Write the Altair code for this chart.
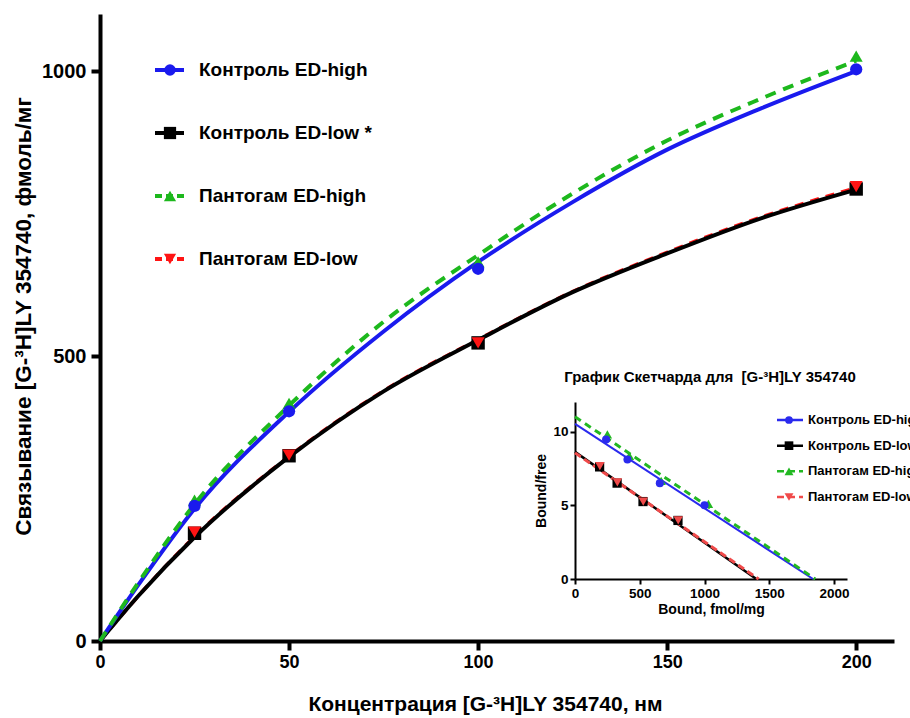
import altair as alt
import pandas as pd

FONT = "Liberation Sans"

# ---------------- data ----------------
series = ["Контроль ED-high", "Контроль ED-low *", "Пантогам ED-high", "Пантогам ED-low"]
inset_series = ["Контроль ED-high", "Контроль ED-low", "Пантогам ED-high", "Пантогам ED-low"]
colors = ["#1a1aee", "#000000", "#1db81d", "#ff1414"]
inset_colors = ["#2a2aee", "#000000", "#22b822", "#f04a4a"]
shapes = ["circle", "square", "triangle-up", "triangle-down"]

conc = [25, 50, 100, 200]
ctrl_high = [237, 403, 653, 1003]
ctrl_low = [189, 325, 523, 793]
pant_high = [247, 417, 665, 1026]
pant_low = [191, 326, 523, 797]

curve_x = [0, 10, 25, 50, 75, 100, 125, 150, 175, 200]
ctrl_high_fit = [0, 97, 232, 402, 543, 665, 770, 862, 935, 1000]
ctrl_low_fit = [0, 78, 182, 323, 438, 528, 612, 680, 742, 792]
pant_high_fit = [0, 101, 240, 413, 560, 677, 785, 878, 952, 1018]
pant_low_fit = [0, 78, 183, 324, 439, 529, 613, 682, 744, 795]

# Scatchard inset
ctrl_high_b = [240, 405, 655, 1000]
ctrl_high_bf = [9.45, 8.1, 6.5, 5.0]
ctrl_low_b = [190, 325, 525, 795]
ctrl_low_bf = [7.6, 6.5, 5.25, 3.97]
pant_high_b = [250, 420, 665, 1030]
pant_high_bf = [9.8, 8.35, 6.65, 5.1]
pant_low_b = [192, 327, 527, 797]
pant_low_bf = [7.65, 6.55, 5.25, 3.98]

ctrl_high_line_b = [0, 1838]
ctrl_high_line_bf = [10.52, 0]
ctrl_low_line_b = [0, 1400]
ctrl_low_line_bf = [8.62, 0]
pant_high_line_b = [0, 1855]
pant_high_line_bf = [11.0, 0]
pant_low_line_b = [0, 1418]
pant_low_line_bf = [8.55, 0]

x_ticks = [0, 50, 100, 150, 200]
y_ticks = [0, 500, 1000]
inset_x_ticks = [0, 500, 1000, 1500, 2000]
inset_y_ticks = [0, 5, 10]

x_title = "Концентрация [G-³H]LY 354740, нм"
y_title = "Связывание [G-³H]LY 354740, фмоль/мг"
inset_title = ["График Скетчарда для\u00a0 [G-³H]LY 354740"]
inset_x_title = "Bound, fmol/mg"
inset_y_title = "Bound/free"

# ---------------- main plot ----------------
X_MAIN = alt.X("x:Q", scale=alt.Scale(domain=[0, 210], nice=False, zero=False),
               axis=alt.Axis(values=x_ticks, title=x_title, orient="bottom", format="d",
                             domainWidth=4, tickWidth=4, tickSize=9,
                             labelFont=FONT, labelFontSize=18, labelFontWeight="bold",
                             labelPadding=3, labelFlush=False,
                             titleFont=FONT, titleFontSize=21, titleFontWeight="bold",
                             titleX=385, titleY=69, titleAlign="center",
                             titleBaseline="alphabetic"))
Y_MAIN = alt.Y("y:Q", scale=alt.Scale(domain=[0, 1100], nice=False),
               axis=alt.Axis(values=y_ticks, title=y_title, orient="left", format="d",
                             domainWidth=4, tickWidth=4, tickSize=9,
                             labelFont=FONT, labelFontSize=20, labelFontWeight="bold",
                             labelPadding=5, labelFlush=False,
                             titleFont=FONT, titleFontSize=22.5, titleFontWeight="bold",
                             titleAngle=-90, titleX=-77, titleY=302,
                             titleAlign="center", titleBaseline="middle"))

fits = [ctrl_high_fit, ctrl_low_fit, pant_high_fit, pant_low_fit]


def fit_layer(i, dash, width):
    df = pd.DataFrame({"x": curve_x, "y": fits[i]})
    kw = dict(color=colors[i], strokeWidth=width, interpolate="monotone")
    if dash:
        kw["strokeDash"] = dash
    return alt.Chart(df).mark_line(**kw).encode(x=X_MAIN, y=Y_MAIN)


pts_rows = []
vals = [ctrl_high, ctrl_low, pant_high, pant_low]
sizes = [150, 180, 170, 170]
for i in [2, 0, 1, 3]:
    for cx, v in zip(conc, vals[i]):
        pts_rows.append({"x": cx, "y": v, "c": colors[i], "s": shapes[i], "z": sizes[i]})
pts_df = pd.DataFrame(pts_rows)

main_points = alt.Chart(pts_df).mark_point(filled=True, opacity=1).encode(
    x=X_MAIN, y=Y_MAIN,
    color=alt.Color("c:N", scale=None),
    shape=alt.Shape("s:N", scale=None),
    size=alt.Size("z:Q", scale=None),
)

main = alt.layer(
    fit_layer(3, [9, 7], 3.5),
    fit_layer(1, None, 4),
    fit_layer(0, None, 4),
    fit_layer(2, [11, 8], 4),
    main_points,
)

# ---------------- inset (Scatchard) ----------------
X_IN = alt.X("bx:Q", scale=alt.Scale(domain=[0, 2100], range=[475, 747], nice=False, zero=False),
             axis=alt.Axis(values=inset_x_ticks, title=inset_x_title, orient="bottom", offset=-62,
                           format="d",
                           domainWidth=2, tickWidth=2, tickSize=5,
                           labelFont=FONT, labelFontSize=13.5, labelFontWeight="bold",
                           labelPadding=2, labelFlush=False,
                           titleFont=FONT, titleFontSize=14, titleFontWeight="bold",
                           titlePadding=3))
Y_IN = alt.Y("by:Q", scale=alt.Scale(domain=[0, 12], range=[565, 388], nice=False),
             axis=alt.Axis(values=inset_y_ticks, title=inset_y_title, orient="left", offset=-475,
                           format="d",
                           domainWidth=2, tickWidth=2, tickSize=5,
                           labelFont=FONT, labelFontSize=13.5, labelFontWeight="bold",
                           labelPadding=2, labelFlush=False,
                           titleFont=FONT, titleFontSize=14, titleFontWeight="bold",
                           titlePadding=4))

ins_lines_b = [ctrl_high_line_b, ctrl_low_line_b, pant_high_line_b, pant_low_line_b]
ins_lines_bf = [ctrl_high_line_bf, ctrl_low_line_bf, pant_high_line_bf, pant_low_line_bf]


def inset_line(i, dash, width):
    df = pd.DataFrame({"bx": ins_lines_b[i], "by": ins_lines_bf[i]})
    kw = dict(color=inset_colors[i], strokeWidth=width)
    if dash:
        kw["strokeDash"] = dash
    return alt.Chart(df).mark_line(**kw).encode(x=X_IN, y=Y_IN)


ins_b = [ctrl_high_b, ctrl_low_b, pant_high_b, pant_low_b]
ins_bf = [ctrl_high_bf, ctrl_low_bf, pant_high_bf, pant_low_bf]
ins_sizes = [65, 85, 90, 90]
ins_rows = []
for i in [2, 0, 1, 3]:
    for b, bf in zip(ins_b[i], ins_bf[i]):
        ins_rows.append({"bx": b, "by": bf, "c": inset_colors[i], "s": shapes[i], "z": ins_sizes[i]})
ins_df = pd.DataFrame(ins_rows)

inset_points = alt.Chart(ins_df).mark_point(filled=True, opacity=1).encode(
    x=X_IN, y=Y_IN,
    color=alt.Color("c:N", scale=None),
    shape=alt.Shape("s:N", scale=None),
    size=alt.Size("z:Q", scale=None),
)

inset = alt.layer(
    inset_line(1, None, 2.5),
    inset_line(3, [7, 4], 3),
    inset_line(0, None, 2),
    inset_line(2, [7, 5], 3),
    inset_points,
)

inset_title_layer = alt.Chart(pd.DataFrame({"t": inset_title})).mark_text(
    font=FONT, fontSize=15, fontWeight="bold", align="center", baseline="alphabetic", color="black"
).encode(text="t:N", x=alt.value(610), y=alt.value(368))

# ---------------- legends ----------------
dashes = [[1, 0], [1, 0], [7, 4], [7, 4]]
leg_df = pd.DataFrame({"label": series, "c": colors, "s": shapes, "d": dashes,
                       "z": [130, 150, 150, 150]})
Y_LEG = alt.Y("label:N", scale=alt.Scale(type="point", domain=series, range=[56, 245], padding=0),
              axis=None)

leg_rule = alt.Chart(leg_df).mark_rule(strokeWidth=4).encode(
    x=alt.value(55), x2=alt.value(84), y=Y_LEG,
    color=alt.Color("c:N", scale=None), strokeDash=alt.StrokeDash("d", scale=None))
leg_pt = alt.Chart(leg_df).mark_point(filled=True, opacity=1).encode(
    x=alt.value(70), y=Y_LEG, color=alt.Color("c:N", scale=None),
    shape=alt.Shape("s:N", scale=None), size=alt.Size("z:Q", scale=None))
leg_txt = alt.Chart(leg_df).mark_text(
    font=FONT, fontSize=19, fontWeight="bold", align="left", baseline="middle", color="black"
).encode(x=alt.value(99), y=Y_LEG, text="label:N")
legend_main = alt.layer(leg_rule, leg_pt, leg_txt)

ileg_df = pd.DataFrame({"label": inset_series, "c": inset_colors, "s": shapes, "d": dashes,
                        "z": [60, 75, 80, 80]})
Y_ILEG = alt.Y("label:N", scale=alt.Scale(type="point", domain=inset_series, range=[406, 483], padding=0),
               axis=None)
ileg_rule = alt.Chart(ileg_df).mark_rule(strokeWidth=2.5).encode(
    x=alt.value(677), x2=alt.value(703), y=Y_ILEG,
    color=alt.Color("c:N", scale=None), strokeDash=alt.StrokeDash("d", scale=None))
ileg_pt = alt.Chart(ileg_df).mark_point(filled=True, opacity=1).encode(
    x=alt.value(689), y=Y_ILEG, color=alt.Color("c:N", scale=None),
    shape=alt.Shape("s:N", scale=None), size=alt.Size("z:Q", scale=None))
ileg_txt = alt.Chart(ileg_df).mark_text(
    font=FONT, fontSize=13, fontWeight="bold", align="left", baseline="middle", color="black"
).encode(x=alt.value(708), y=Y_ILEG, text="label:N")
legend_inset = alt.layer(ileg_rule, ileg_pt, ileg_txt)

chart = alt.layer(
    main, inset, legend_main, legend_inset, inset_title_layer
).resolve_scale(
    x="independent", y="independent"
).properties(
    width=794, height=627,
    autosize=alt.AutoSizeParams(type="none"),
    padding={"left": 100, "top": 14, "right": 16, "bottom": 77},
).configure_view(
    stroke=None
).configure_axis(
    grid=False, domainColor="black", tickColor="black", labelColor="black", titleColor="black"
)

chart.save("out.html", embed_options={"renderer": "svg", "actions": False})
